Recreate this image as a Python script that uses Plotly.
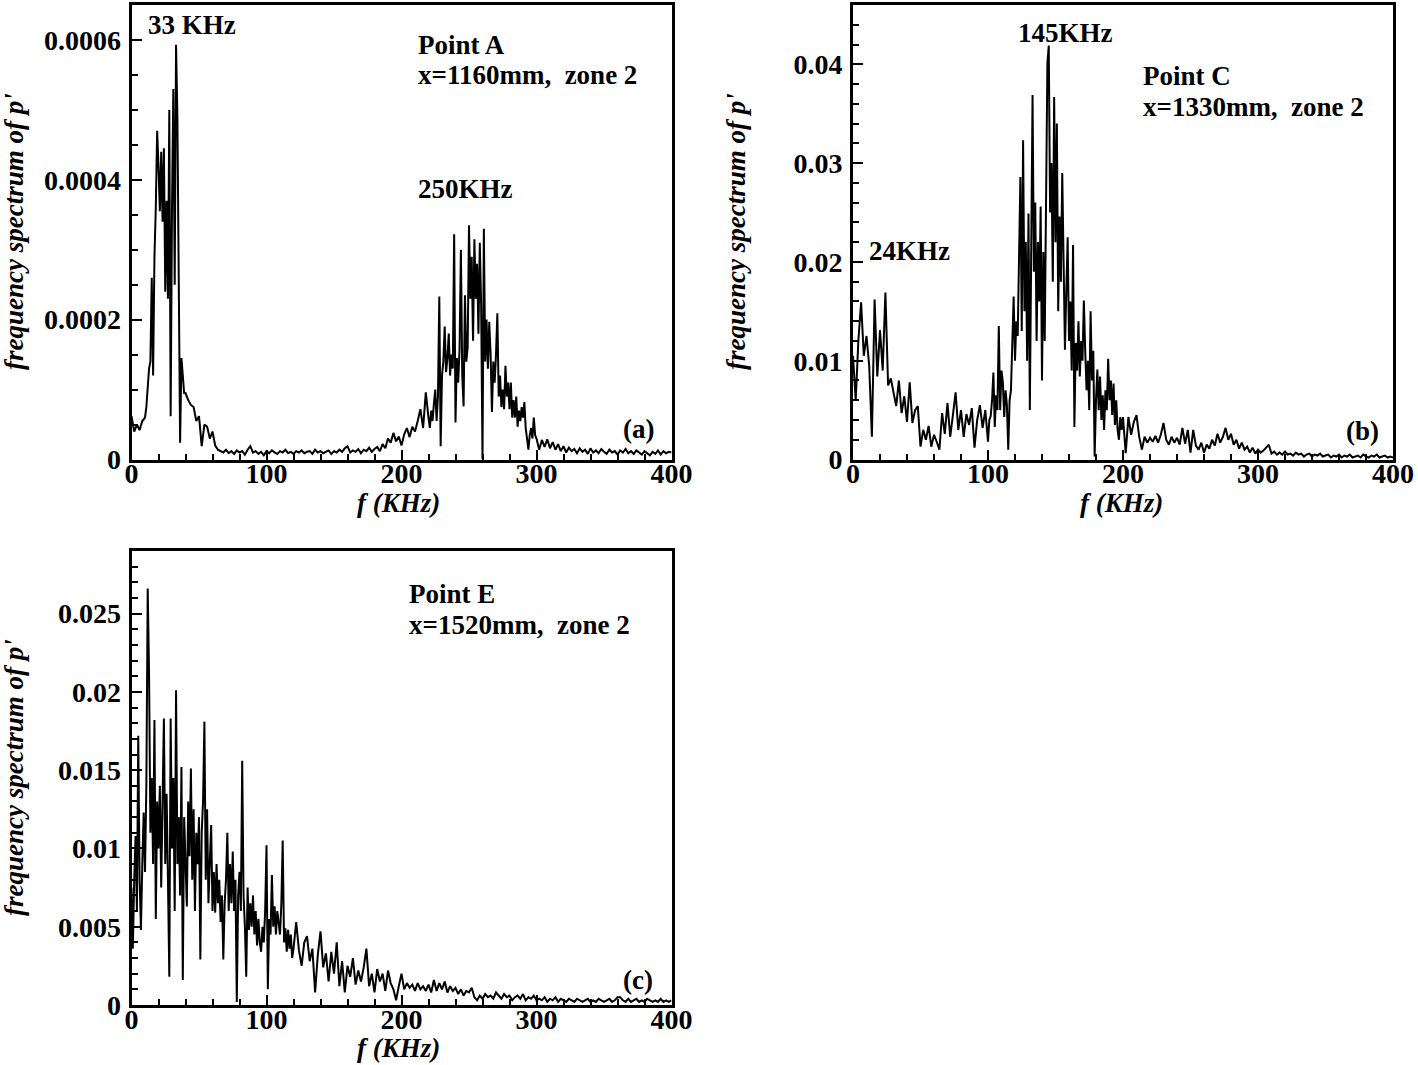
import plotly.graph_objects as go

W, H = 1418, 1065

# ---------------- data ----------------
# Point A, x=1160mm, zone 2 -- frequency (KHz) and spectrum (units of 1e-4)
freq_a = (list(range(0, 10, 2)) + list(range(10, 40)) + list(range(40, 220, 2))
          + list(range(220, 300)) + list(range(300, 401, 2)))
spec_a_e4 = [
    # 0-8 (step 2)
    0.62, 0.40, 0.50, 0.42, 0.55,
    # 10-39 (step 1)
    0.60, 0.75, 1.00, 1.30, 1.40, 2.60, 1.20, 2.90, 3.60, 4.70,
    4.20, 3.55, 4.40, 3.40, 4.45, 2.40, 3.70, 2.30, 5.00, 0.62,
    3.60, 5.30, 2.50, 5.93, 4.90, 2.30, 0.24, 1.45, 1.20, 0.95,
    # 40-218 (step 2)
    0.95, 0.85, 0.78, 0.75, 0.55, 0.62, 0.19, 0.50, 0.47, 0.30,
    0.40, 0.20, 0.14, 0.12, 0.10, 0.14, 0.09, 0.12, 0.08, 0.13,
    0.10, 0.12, 0.07, 0.14, 0.19, 0.10, 0.12, 0.08, 0.11, 0.06,
    0.12, 0.09, 0.13, 0.10, 0.08, 0.12, 0.10, 0.14, 0.09, 0.11,
    0.08, 0.12, 0.10, 0.13, 0.09, 0.11, 0.12, 0.08, 0.14, 0.10,
    0.12, 0.09, 0.11, 0.13, 0.08, 0.12, 0.10, 0.14, 0.11, 0.16,
    0.19, 0.10, 0.13, 0.11, 0.15, 0.09, 0.14, 0.12, 0.17, 0.11,
    0.15, 0.18, 0.12, 0.22, 0.16, 0.30, 0.24, 0.38, 0.26, 0.33,
    0.20, 0.36, 0.45, 0.32, 0.47, 0.40, 0.55, 0.72, 0.45, 0.96,
    # 220-299 (step 1)
    0.60, 0.45, 0.70, 0.55, 0.80, 1.00, 0.55, 0.90, 2.33, 0.19,
    1.20, 1.40, 1.90, 1.25, 1.44, 1.80, 1.20, 1.50, 1.30, 3.22,
    0.53, 1.45, 1.10, 1.58, 3.00, 1.20, 0.76, 2.35, 1.40, 1.60,
    3.35, 2.30, 2.90, 1.70, 3.15, 2.30, 2.80, 1.80, 3.10, 2.20,
    0.00, 3.30, 1.40, 2.00, 1.30, 1.97, 1.50, 0.68, 1.40, 1.10,
    1.50, 2.09, 0.90, 1.20, 0.75, 1.00, 0.72, 1.34, 0.90, 1.10,
    0.72, 1.10, 0.60, 0.85, 0.60, 0.90, 0.47, 0.70, 0.55, 0.75,
    0.60, 0.82, 0.45, 0.30, 0.14, 0.35, 0.45, 0.30, 0.60, 0.35,
    # 300-400 (step 2)
    0.30, 0.14, 0.28, 0.18, 0.29, 0.16, 0.25, 0.14, 0.22, 0.12,
    0.19, 0.10, 0.17, 0.12, 0.15, 0.09, 0.16, 0.11, 0.14, 0.08,
    0.16, 0.10, 0.13, 0.09, 0.15, 0.11, 0.08, 0.14, 0.10, 0.12,
    0.07, 0.13, 0.10, 0.15, 0.09, 0.12, 0.08, 0.13, 0.10, 0.07,
    0.12, 0.09, 0.06, 0.11, 0.08, 0.13, 0.07, 0.12, 0.09, 0.11,
    0.10,
]

# Point C, x=1330mm, zone 2 -- frequency (KHz) and spectrum (units of 1e-3)
freq_c = list(range(0, 100, 2)) + list(range(100, 200)) + list(range(200, 401, 2))
spec_c_e3 = [
    # 0-98 (step 2)
    10.5, 6.0, 12.1, 15.9, 10.5, 12.5, 9.5, 2.3, 16.2, 8.4,
    13.1, 9.0, 16.9, 7.5, 8.2, 6.8, 5.4, 8.0, 4.7, 6.4,
    3.8, 7.8, 3.7, 5.0, 5.4, 1.3, 3.0, 2.0, 3.4, 1.3,
    2.5, 1.8, 1.0, 4.7, 2.6, 5.7, 2.3, 4.5, 6.8, 3.0,
    5.0, 2.3, 4.6, 3.5, 5.2, 1.2, 4.0, 5.5, 3.2, 5.0,
    # 100-199 (step 1)
    1.8, 4.0, 4.4, 6.0, 8.8, 3.3, 6.5, 5.0, 13.5, 5.0,
    9.0, 7.8, 4.3, 7.0, 5.5, 1.0, 6.0, 7.0, 12.0, 16.5,
    10.0, 14.0, 12.5, 20.0, 28.6, 13.0, 32.3, 15.0, 22.0, 10.0,
    24.9, 5.0, 18.0, 36.9, 19.0, 26.0, 12.0, 22.0, 16.0, 25.6,
    8.0, 21.0, 12.0, 30.0, 40.1, 41.9, 25.0, 30.0, 18.0, 36.7,
    22.0, 34.0, 15.0, 24.6, 18.0, 29.0, 20.0, 11.1, 17.0, 22.5,
    12.0, 16.0, 9.0, 21.7, 3.3, 11.8, 9.0, 14.0, 8.4, 12.0,
    10.0, 16.1, 11.0, 7.0, 10.0, 5.0, 15.0, 8.0, 11.0, 0.3,
    6.0, 9.1, 5.0, 8.4, 4.0, 6.5, 3.0, 7.0, 5.0, 10.2,
    6.0, 8.0, 4.5, 7.7, 3.5, 6.0, 3.0, 2.0, 4.3, 3.0,
    # 200-400 (step 2)
    4.3, 0.65, 4.3, 2.5, 3.8, 4.5, 2.3, 1.0, 2.3, 1.7,
    2.2, 1.8, 2.4, 1.7, 2.5, 3.7, 2.0, 1.5, 2.3, 1.7,
    2.2, 1.5, 3.2, 1.6, 3.0, 0.7, 3.0, 1.4, 1.0, 1.7,
    0.7, 1.5, 1.1, 2.0, 1.4, 2.6, 1.7, 2.3, 3.2, 2.0,
    2.6, 1.5, 2.0, 1.1, 1.7, 1.0, 1.3, 0.7, 1.2, 0.6,
    1.0, 0.7, 0.9, 1.2, 1.5, 0.6, 0.8, 0.5, 0.7, 0.5,
    0.8, 0.5, 0.6, 0.4, 0.7, 0.5, 0.6, 0.3, 0.5, 0.6,
    0.3, 0.5, 0.4, 0.6, 0.3, 0.4, 0.5, 0.2, 0.4, 0.3,
    0.5, 0.2, 0.4, 0.3, 0.5, 0.2, 0.3, 0.4, 0.2, 0.5,
    0.3, 0.2, 0.4, 0.3, 0.5, 0.2, 0.3, 0.4, 0.2, 0.3,
    0.2,
]

# Point E, x=1520mm, zone 2 -- frequency (KHz) and spectrum (units of 1e-3)
freq_e = list(range(0, 120)) + list(range(120, 401, 2))
spec_e_e3 = [
    # 0-119 (step 1)
    7.5, 3.6, 8.0, 10.8, 6.0, 17.2, 8.0, 4.8, 9.0, 12.3,
    8.5, 14.0, 26.6, 21.2, 11.0, 14.5, 9.0, 18.2, 5.5, 13.0,
    10.0, 14.0, 7.5, 12.0, 18.3, 9.0, 13.5, 8.0, 1.8, 18.3,
    10.0, 14.5, 6.0, 20.1, 9.0, 12.0, 7.0, 15.2, 1.6, 12.0,
    9.0, 6.3, 13.0, 9.5, 15.1, 8.0, 12.5, 6.0, 11.0, 9.0,
    12.0, 2.9, 11.0, 13.0, 18.1, 8.0, 12.5, 6.5, 9.1, 11.5,
    6.0, 8.5, 5.9, 9.0, 6.5, 8.0, 5.3, 7.0, 2.9, 6.5,
    8.0, 11.0, 6.0, 9.0, 6.5, 9.8, 6.0, 8.0, 0.2, 7.0,
    8.5, 6.0, 15.6, 7.0, 5.0, 1.8, 7.5, 4.8, 6.5, 5.0,
    7.0, 4.5, 6.0, 3.8, 5.5, 4.0, 3.4, 5.0, 4.0, 6.0,
    10.2, 1.0, 5.5, 4.5, 8.3, 5.0, 6.3, 4.5, 6.0, 5.0,
    4.5, 6.5, 10.5, 4.0, 4.9, 3.4, 4.8, 3.6, 4.5, 3.0,
    # 120-400 (step 2)
    3.6, 5.3, 3.5, 2.5, 4.0, 4.4, 2.8, 3.6, 0.8, 3.2,
    4.7, 2.4, 3.3, 1.5, 3.4, 2.0, 4.0, 1.2, 2.8, 0.8,
    2.5, 1.8, 3.0, 1.3, 2.2, 1.5, 2.4, 3.6, 1.2, 2.0,
    0.8, 2.3, 1.5, 2.0, 0.9, 2.2, 1.4, 1.0, 0.3, 1.2,
    2.0, 1.0, 1.4, 1.1, 1.3, 0.9, 1.4, 1.0, 1.2, 0.9,
    1.3, 0.8, 1.6, 0.9, 1.4, 1.0, 1.5, 0.8, 1.2, 0.9,
    1.1, 0.7, 1.0, 0.6, 0.9, 0.8, 1.1, 0.5, 0.3, 0.6,
    0.4, 0.7, 0.5, 0.6, 0.4, 0.8, 0.6, 0.4, 0.7, 0.5,
    0.6, 0.3, 0.5, 0.6, 0.4, 0.7, 0.3, 0.5, 0.4, 0.6,
    0.3, 0.4, 0.3, 0.5, 0.2, 0.4, 0.3, 0.5, 0.2, 0.4,
    0.3, 0.2, 0.4, 0.3, 0.2, 0.4, 0.3, 0.2, 0.3, 0.4,
    0.2, 0.3, 0.2, 0.4, 0.3, 0.2, 0.3, 0.4, 0.2, 0.3,
    0.5, 0.5, 0.3, 0.2, 0.4, 0.2, 0.3, 0.4, 0.2, 0.3,
    0.2, 0.4, 0.3, 0.2, 0.3, 0.2, 0.4, 0.2, 0.3, 0.2,
    0.3,
]

assert len(spec_a_e4) == len(freq_a), (len(spec_a_e4), len(freq_a))
assert len(spec_c_e3) == len(freq_c), (len(spec_c_e3), len(freq_c))
assert len(spec_e_e3) == len(freq_e), (len(spec_e_e3), len(freq_e))

# ---------------- styling ----------------
FONT = "Liberation Serif"
BLACK = "black"

# panel boxes in pixels: (left, right, top, bottom)
boxes = {
    "a": (131.5, 671.5, 5.0, 459.5),
    "b": (853.0, 1393.0, 5.0, 459.5),
    "c": (131.5, 671.5, 551.0, 1005.0),
}


def xdom(b):
    return [b[0] / W, b[1] / W]


def ydom(b):
    return [1 - b[3] / H, 1 - b[2] / H]


fig = go.Figure()
line = dict(color=BLACK, width=2)
fig.add_trace(go.Scatter(x=freq_a, y=[v * 1e-4 for v in spec_a_e4], mode="lines",
                         line=line, xaxis="x", yaxis="y", showlegend=False))
fig.add_trace(go.Scatter(x=freq_c, y=[v * 1e-3 for v in spec_c_e3], mode="lines",
                         line=line, xaxis="x2", yaxis="y2", showlegend=False))
fig.add_trace(go.Scatter(x=freq_e, y=[v * 1e-3 for v in spec_e_e3], mode="lines",
                         line=line, xaxis="x3", yaxis="y3", showlegend=False))

tickfont = dict(family=FONT, size=28, color=BLACK, weight="bold")


def xaxis(b, anchor):
    return dict(domain=xdom(b), anchor=anchor, range=[0, 400], dtick=100, tick0=0,
                automargin=False,
                showline=True, linewidth=3, linecolor=BLACK, mirror=True,
                ticks="inside", ticklen=10, tickwidth=2, tickcolor=BLACK,
                minor=dict(ticks="inside", ticklen=6, tickwidth=1.5, tickcolor=BLACK,
                           dtick=20, showgrid=False),
                showgrid=False, zeroline=False, tickfont=tickfont,
                ticklabelstandoff=-13)


def yaxis(b, anchor, rng, dtick, mdtick, fmt):
    return dict(domain=ydom(b), anchor=anchor, range=rng, dtick=dtick, tick0=0,
                automargin=False,
                showline=True, linewidth=3, linecolor=BLACK, mirror=True,
                ticks="inside", ticklen=10, tickwidth=2, tickcolor=BLACK,
                minor=dict(ticks="inside", ticklen=6, tickwidth=1.5, tickcolor=BLACK,
                           dtick=mdtick, showgrid=False),
                showgrid=False, zeroline=False, tickfont=tickfont, tickformat=fmt,
                ticklabelstandoff=2)


def ann(text, x, y, xanchor="left", angle=0, size=27, yanchor="middle"):
    return dict(text=text, x=x / W, y=1 - y / H, xref="paper", yref="paper",
                xanchor=xanchor, yanchor=yanchor, showarrow=False, textangle=angle,
                borderpad=0,
                font=dict(family=FONT, size=size, color=BLACK))


ytitle = "<b><i>frequency spectrum of p'</i></b>"
xtitle = "<b><i>f (KHz)</i></b>"

annotations = [
    ann("<b>33 KHz</b>", 147, 25),
    ann("<b>Point A</b>", 417, 45),
    ann("<b>x=1160mm,  zone 2</b>", 417, 75),
    ann("<b>250KHz</b>", 417, 189),
    ann("<b>(a)</b>", 622, 429),
    ann("<b>145KHz</b>", 1017, 33),
    ann("<b>Point C</b>", 1142, 76),
    ann("<b>x=1330mm,  zone 2</b>", 1142, 107),
    ann("<b>24KHz</b>", 868, 251),
    ann("<b>(b)</b>", 1345, 431),
    ann("<b>Point E</b>", 408, 594),
    ann("<b>x=1520mm,  zone 2</b>", 408, 625),
    ann("<b>(c)</b>", 622, 980),
    ann(ytitle, 14, 232, "center", -90),
    ann(ytitle, 736, 232, "center", -90),
    ann(ytitle, 14, 778, "center", -90),
    ann(xtitle, 398, 503, "center"),
    ann(xtitle, 1121, 503, "center"),
    ann(xtitle, 398, 1064, "center", yanchor="bottom"),
]

fig.update_layout(
    width=W, height=H,
    margin=dict(l=0, r=0, t=0, b=0, autoexpand=False),
    paper_bgcolor="white", plot_bgcolor="white",
    showlegend=False,
    xaxis=xaxis(boxes["a"], "y"),
    yaxis=yaxis(boxes["a"], "x", [0, 0.00065], 0.0002, 0.00005, ".4~f"),
    xaxis2=xaxis(boxes["b"], "y2"),
    yaxis2=yaxis(boxes["b"], "x2", [0, 0.046], 0.01, 0.002, ".2~f"),
    xaxis3=xaxis(boxes["c"], "y3"),
    yaxis3=yaxis(boxes["c"], "x3", [0, 0.029], 0.005, 0.001, ".3~f"),
    annotations=annotations,
)

# remove the default page margin so the figure sits at the window's top-left corner
fig.write_html("out.html",
               config={"displayModeBar": False},
               post_script="document.body.style.margin='0';document.body.style.overflow='hidden';")
